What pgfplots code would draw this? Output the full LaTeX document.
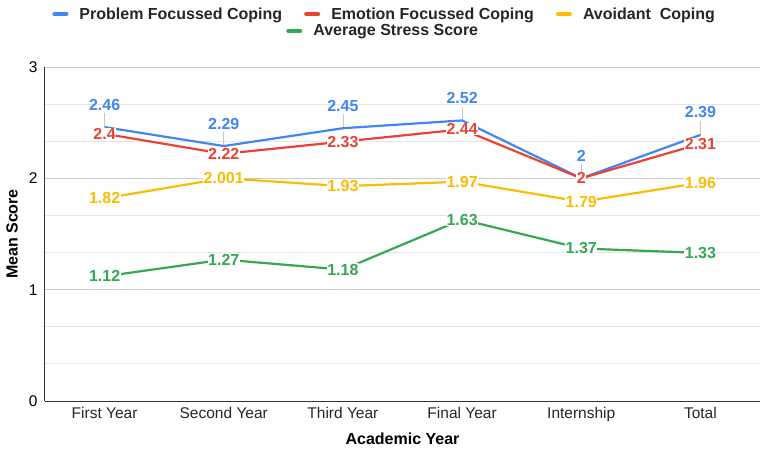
\documentclass[border=0pt]{standalone}
\usepackage{fontspec}
\setmainfont{Liberation Sans}
\usepackage{pgfplots}
\usepackage{pgfplotstable}
\pgfplotsset{compat=1.18}
\definecolor{cB}{HTML}{4285F4}
\definecolor{cR}{HTML}{EA4335}
\definecolor{cY}{HTML}{FBBC04}
\definecolor{cG}{HTML}{34A853}
\newcommand\lf{\bfseries\fontsize{16}{19}\selectfont}
\newcommand\tf{\fontsize{15.5}{18}\selectfont}

\pgfplotstableread{
x pf ef av st
0 2.46 2.4 1.82 1.12
1 2.29 2.22 2.001 1.27
2 2.45 2.33 1.93 1.18
3 2.52 2.44 1.97 1.63
4 2 2 1.79 1.37
5 2.39 2.31 1.96 1.33
}\data

\pgfplotsset{
  myleg/.style={
    legend image code/.code={\draw[##1, line width=4pt, line cap=round] (0pt,0pt) -- (12pt,0pt);\path (22pt,0pt);},
    legend style={draw=none, fill=none, font=\lf, text=black!85, anchor=center,
      /tikz/every even column/.append style={column sep=20pt}},
  }
}

\begin{document}
\begin{tikzpicture}
\useasboundingbox (-45pt,-52pt) rectangle (722pt,401pt);
\begin{axis}[
  width=715pt, height=334pt, scale only axis,
  xmin=-0.5, xmax=5.5, ymin=0, ymax=3,
  clip=false,
  xtick={0,...,5},
  xticklabels={First Year,Second Year,Third Year,Final Year,Internship,Total},
  ytick={0,1,2,3}, minor y tick num=2,
  ymajorgrids, yminorgrids,
  major grid style={color=black!20, line width=0.8pt},
  minor grid style={color=black!10, line width=0.8pt},
  axis x line*=bottom, axis y line*=left,
  axis line style={color=black!80, line width=1pt, -},
  major tick length=0pt, minor tick length=0pt,
  /pgf/number format/assume math mode=true,
  x tick label style={font=\tf, color=black!85, yshift=-3pt},
  y tick label style={font=\tf, color=black, xshift=-4pt},
  xlabel={Academic Year}, ylabel={Mean Score},
  xlabel style={at={(axis description cs:0.5,0)}, anchor=center, yshift=-38pt, font=\lf},
  ylabel style={at={(axis description cs:0,0.5)}, anchor=center, yshift=33pt, font=\lf},
  myleg, legend columns=3,
  legend style={at={(0.475,1.1587)}},
]
\addplot[forget plot, draw=none, mark=none,
  error bars/.cd, y dir=plus, y fixed=0.125, error mark=none,
  error bar style={draw=black!22, line width=0.6pt}] table[x=x,y=pf]{\data};

\addplot[cB, line width=2.2pt, mark=none] table[x=x,y=pf]{\data};
\addlegendentry{Problem Focussed Coping}
\addplot[cR, line width=2.2pt, mark=none] table[x=x,y=ef]{\data};
\addlegendentry{Emotion Focussed Coping}
\addplot[cY, line width=2.2pt, mark=none] table[x=x,y=av]{\data};
\addlegendentry{Avoidant\ \ Coping}
\addplot[cG, line width=2.2pt, mark=none] table[x=x,y=st]{\data};

\addplot[forget plot, draw=none, mark=none, nodes near coords, point meta=explicit symbolic,
  nodes near coords style={font=\lf, text=cB, anchor=center, yshift=22.5pt}]
  table[x=x,y=pf,meta=pf]{\data};
\addplot[forget plot, draw=none, mark=none, nodes near coords, point meta=explicit symbolic,
  nodes near coords style={font=\lf, text=cR, anchor=center, fill=white, inner sep=0.5pt}]
  table[x=x,y=ef,meta=ef]{\data};
\addplot[forget plot, draw=none, mark=none, nodes near coords, point meta=explicit symbolic,
  nodes near coords style={font=\lf, text=cY, anchor=center, fill=white, inner sep=0.5pt}]
  table[x=x,y=av,meta=av]{\data};
\addplot[forget plot, draw=none, mark=none, nodes near coords, point meta=explicit symbolic,
  nodes near coords style={font=\lf, text=cG, anchor=center, fill=white, inner sep=0.5pt}]
  table[x=x,y=st,meta=st]{\data};
\end{axis}
\begin{axis}[
  width=715pt, height=334pt, scale only axis, hide axis,
  xmin=0, xmax=1, ymin=0, ymax=1,
  myleg,
  legend style={at={(0.473,1.108)}},
]
\addlegendimage{cG, line width=2.2pt}
\addlegendentry{Average Stress Score}
\end{axis}
\end{tikzpicture}
\end{document}
